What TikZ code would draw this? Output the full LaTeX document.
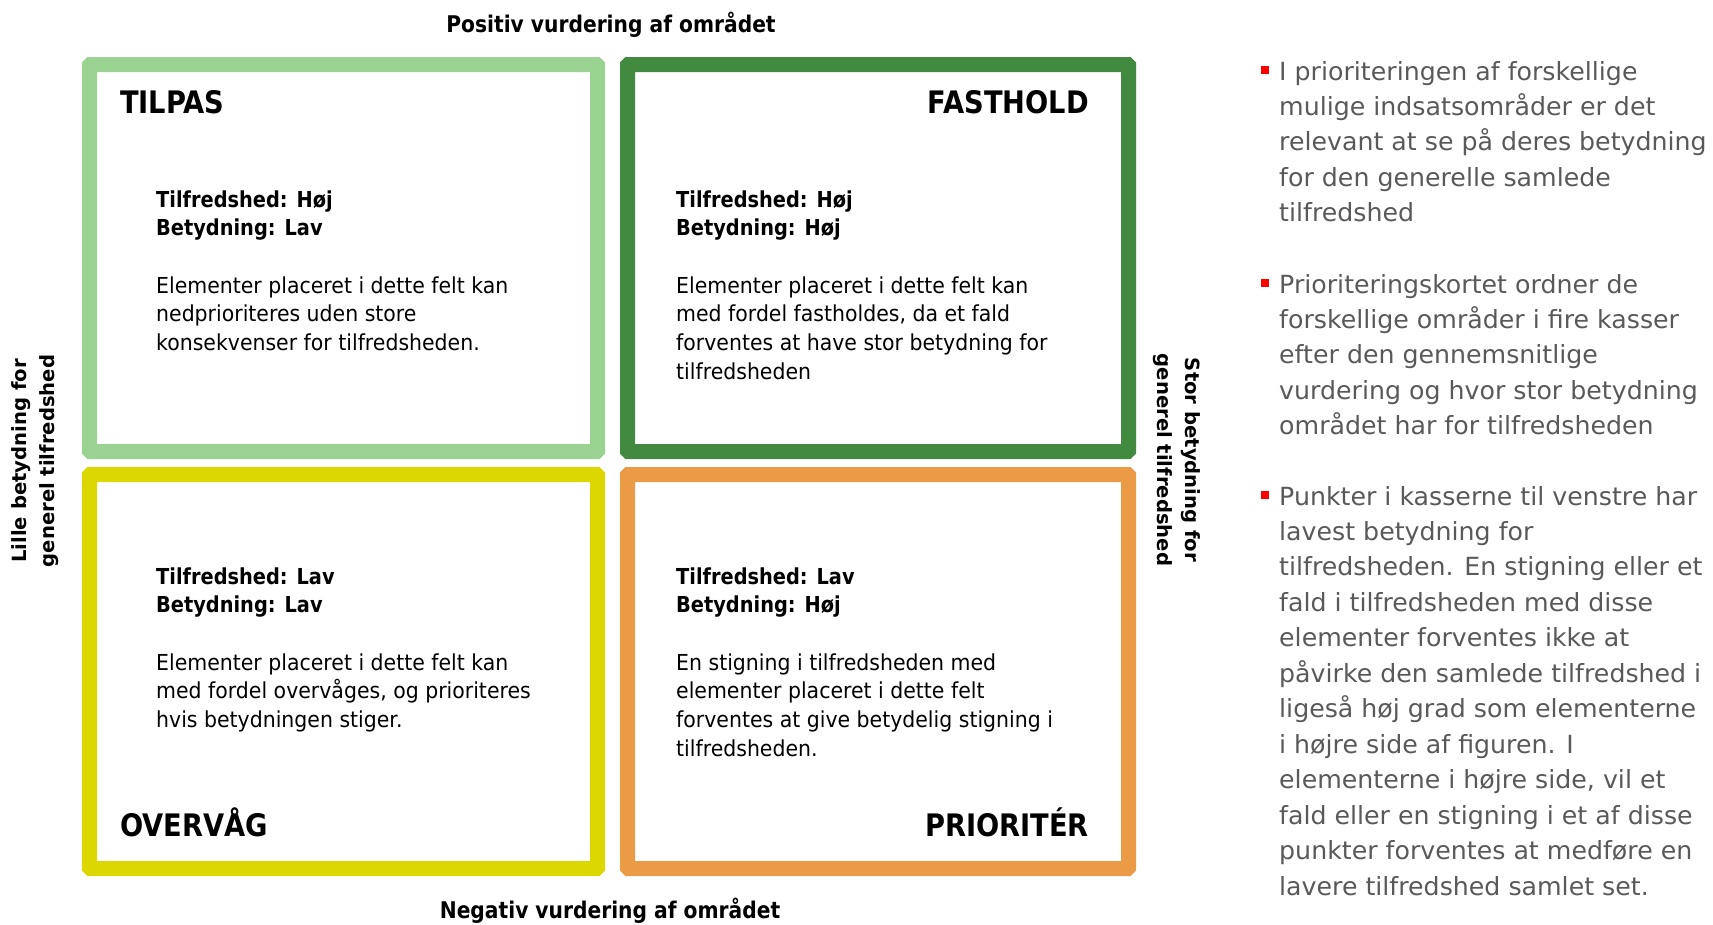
\documentclass[tikz,border=0pt]{standalone}
\usepackage{fontspec}
\setmainfont{DejaVu Sans}
\newfontfamily\boxfont{DejaVu Sans}[FakeStretch=0.93]
\newfontfamily\headfont{DejaVu Sans}[FakeStretch=0.88]
\newfontfamily\notefont{DejaVu Sans}[FakeStretch=1.01]
\newcommand{\keyline}[1]{{\headfont\bfseries #1}}
\usetikzlibrary{positioning}
\definecolor{lightgreen}{HTML}{9AD391}
\definecolor{darkgreen}{HTML}{418A3F}
\definecolor{mustard}{HTML}{DCD700}
\definecolor{orangebox}{HTML}{EB9A45}
\definecolor{notegray}{HTML}{595959}
\begin{document}
\begin{tikzpicture}[
x=1pt, y=-1pt,
quad/.style={
  draw,
  line width=15pt,
  rounded corners=1pt,
  inner sep=0pt,
  outer sep=0pt
  },
heading/.style={
  font=\headfont\bfseries\fontsize{31}{36}\selectfont,
  inner sep=0pt
  },
info/.style={
  font=\boxfont\fontsize{22}{28.7}\selectfont,
  align=left,
  inner sep=0pt
  },
axislabel/.style={
  font=\headfont\bfseries\fontsize{23}{28}\selectfont,
  inner sep=0pt
  },
sidelabel/.style={
  font=\bfseries\fontsize{19.6}{28}\selectfont,
  align=center,
  inner sep=0pt
  },
note/.style={
  font=\notefont\fontsize{25}{35.45}\selectfont,
  text=notegray,
  align=left,
  inner sep=0pt
  },
bulletsq/.style={
  fill=red,
  minimum size=8pt,
  inner sep=0pt
  }
]
\useasboundingbox (0,0) rectangle (1713,924);
\node[quad, draw=lightgreen, minimum width=508, minimum height=387] (tilpas) at (343.5,258) {};
\node[quad, draw=darkgreen, minimum width=501, minimum height=387] (fasthold) at (878,258) {};
\node[quad, draw=mustard, minimum width=508, minimum height=394] (overvaag) at (343.5,671.5) {};
\node[quad, draw=orangebox, minimum width=501, minimum height=394] (prioriter) at (878,671.5) {};

\node[heading, anchor=base west] (tilpasH) at (120,113) {TILPAS};
\node[heading, anchor=base east] (fastholdH) at (1089,113) {FASTHOLD};
\node[heading, anchor=base west] (overvaagH) at (120,836) {OVERVÅG};
\node[heading, anchor=base east] (prioriterH) at (1089,836) {PRIORITÉR};

% multi-line nodes: base is the last line
\node[info, anchor=base west] (tilpasT) at (156,350.5) {\keyline{Tilfredshed: Høj}\\\keyline{Betydning: Lav}\\[28.7pt]
Elementer placeret i dette felt kan\\nedprioriteres uden store\\konsekvenser for tilfredsheden.};
\node[info, anchor=base west] (fastholdT) at (676,379.2) {\keyline{Tilfredshed: Høj}\\\keyline{Betydning: Høj}\\[28.7pt]
Elementer placeret i dette felt kan\\med fordel fastholdes, da et fald\\forventes at have stor betydning for\\tilfredsheden};
\node[info, anchor=base west] (overvaagT) at (156,727.5) {\keyline{Tilfredshed: Lav}\\\keyline{Betydning: Lav}\\[28.7pt]
Elementer placeret i dette felt kan\\med fordel overvåges, og prioriteres\\hvis betydningen stiger.};
\node[info, anchor=base west] (prioriterT) at (676,756.2) {\keyline{Tilfredshed: Lav}\\\keyline{Betydning: Høj}\\[28.7pt]
En stigning i tilfredsheden med\\elementer placeret i dette felt\\forventes at give betydelig stigning i\\tilfredsheden.};

\node[axislabel, anchor=base] (positiv) at (611,32) {Positiv vurdering af området};
\node[axislabel, anchor=base] (negativ) at (610,918) {Negativ vurdering af området};
\node[sidelabel, rotate=90] (lille) at (35.5,461) {Lille betydning for\\generel tilfredshed};
\node[sidelabel, rotate=-90] (stor) at (1176.5,460) {Stor betydning for\\generel tilfredshed};

\node[bulletsq] (b1) at (1265,70) {};
\node[note, anchor=base west] (note1) at (1279,221.8) {I prioriteringen af forskellige\\mulige indsatsområder er det\\relevant at se på deres betydning\\for den generelle samlede\\tilfredshed};
\node[bulletsq] (b2) at (1265,283) {};
\node[note, anchor=base west] (note2) at (1279,434.8) {Prioriteringskortet ordner de\\forskellige områder i fire kasser\\efter den gennemsnitlige\\vurdering og hvor stor betydning\\området har for tilfredsheden};
\node[bulletsq] (b3) at (1265,495) {};
\node[note, anchor=base west] (note3) at (1279,895) {Punkter i kasserne til venstre har\\lavest betydning for\\tilfredsheden. En stigning eller et\\fald i tilfredsheden med disse\\elementer forventes ikke at\\påvirke den samlede tilfredshed i\\ligeså høj grad som elementerne\\i højre side af figuren. I\\elementerne i højre side, vil et\\fald eller en stigning i et af disse\\punkter forventes at medføre en\\lavere tilfredshed samlet set.};
\end{tikzpicture}
\end{document}
